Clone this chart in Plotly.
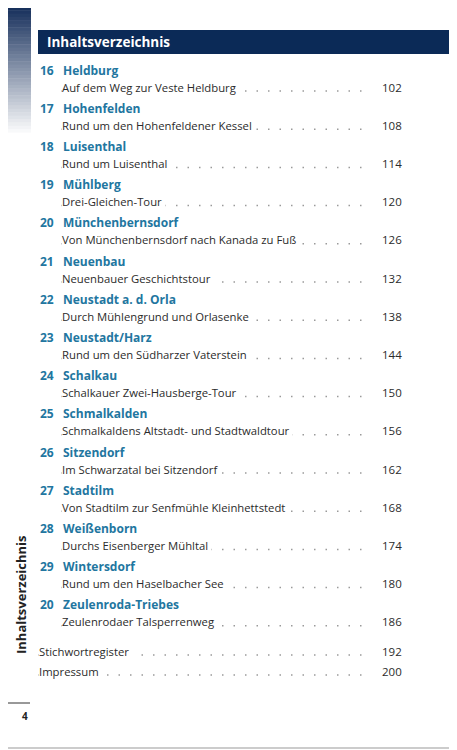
import plotly.graph_objects as go

# Table of contents data
numbers = [16, 17, 18, 19, 20, 21, 22, 23, 24, 25, 26, 27, 28, 29, 20]
places = ["Heldburg", "Hohenfelden", "Luisenthal", "Mühlberg", "Münchenbernsdorf",
          "Neuenbau", "Neustadt a. d. Orla", "Neustadt/Harz", "Schalkau", "Schmalkalden",
          "Sitzendorf", "Stadtilm", "Weißenborn", "Wintersdorf", "Zeulenroda-Triebes"]
tours = ["Auf dem Weg zur Veste Heldburg", "Rund um den Hohenfeldener Kessel",
         "Rund um Luisenthal", "Drei-Gleichen-Tour",
         "Von Münchenbernsdorf nach Kanada zu Fuß", "Neuenbauer Geschichtstour",
         "Durch Mühlengrund und Orlasenke", "Rund um den Südharzer Vaterstein",
         "Schalkauer Zwei-Hausberge-Tour", "Schmalkaldens Altstadt- und Stadtwaldtour",
         "Im Schwarzatal bei Sitzendorf", "Von Stadtilm zur Senfmühle Kleinhettstedt",
         "Durchs Eisenberger Mühltal", "Rund um den Haselbacher See",
         "Zeulenrodaer Talsperrenweg"]
pages = [102, 108, 114, 120, 126, 132, 138, 144, 150, 156, 162, 168, 174, 180, 186]
extras = ["Stichwortregister", "Impressum"]
extra_pages = [192, 200]

W, H = 457, 750
OFF = 8  # page body margin
TEAL = "#2276a0"
NAVY = "#0b2a57"
TXT = "#2b2b2b"
FONT = "Open Sans"

fig = go.Figure()
shapes = []
ann = []

# left gradient band
n = 40
for i in range(n):
    t = i / (n - 1)
    r = int(12 + (255 - 12) * t)
    g = int(38 + (255 - 38) * t)
    b = int(84 + (255 - 84) * t)
    shapes.append(dict(type="rect", x0=0, x1=31, y0=i * 3.4, y1=(i + 1) * 3.4 + 0.5,
                       fillcolor=f"rgb({r},{g},{b})", line_width=0, layer="below"))

# header bar
shapes.append(dict(type="rect", x0=38, x1=W, y0=30, y1=54, fillcolor=NAVY, line_width=0))
ann.append(dict(x=45, y=42, text="<b>Inhaltsverzeichnis</b>", xanchor="left",
                font=dict(family=FONT, size=13.5, color="white")))

dot_x = []
dot_y = []
step = 38.2
for i, (num, place, tour, pg) in enumerate(zip(numbers, places, tours, pages)):
    y = 70 + i * step
    ann.append(dict(x=38, y=y, text=f"<b>{num}</b>", xanchor="left",
                    font=dict(family=FONT, size=12, color=TEAL)))
    ann.append(dict(x=61, y=y, text=f"<b>{place}</b>", xanchor="left",
                    font=dict(family=FONT, size=12, color=TEAL)))
    ys = y + 17
    ann.append(dict(x=61, y=ys, text=tour + " ", xanchor="left", bgcolor="white",
                    borderpad=0, font=dict(family=FONT, size=11.3, color=TXT)))
    ann.append(dict(x=404, y=ys, text=str(pg), xanchor="right",
                    font=dict(family=FONT, size=11.5, color=TXT)))
    dot_x += [61, 368, None]
    dot_y += [ys + 4, ys + 4, None]

for j, (name, pg) in enumerate(zip(extras, extra_pages)):
    ys = 651 + j * 20
    ann.append(dict(x=38, y=ys, text=name + " ", xanchor="left", bgcolor="white",
                    borderpad=0, font=dict(family=FONT, size=11.3, color=TXT)))
    ann.append(dict(x=404, y=ys, text=str(pg), xanchor="right",
                    font=dict(family=FONT, size=11.5, color=TXT)))
    dot_x += [38, 368, None]
    dot_y += [ys + 4, ys + 4, None]

fig.add_trace(go.Scatter(x=dot_x, y=dot_y, mode="lines", hoverinfo="skip",
                         line=dict(color="#9a9a9a", width=1.5, dash="1.5px,10px")))

# vertical side label
ann.append(dict(x=21, y=595, text="<b>Inhaltsverzeichnis</b>", textangle=-90,
                font=dict(family=FONT, size=13, color="#222")))
# page number and rules
shapes.append(dict(type="line", x0=0, x1=30, y0=703, y1=703, line=dict(color="#333", width=1)))
ann.append(dict(x=30, y=716, text="<b>4</b>", xanchor="right",
                font=dict(family=FONT, size=10, color="#222")))
shapes.append(dict(type="line", x0=0, x1=W, y0=748, y1=748, line=dict(color="#ccc", width=2)))

for a in ann:
    a.update(xref="x", yref="y", showarrow=False, yanchor="middle")

fig.update_layout(
    width=W - OFF, height=H - OFF, margin=dict(l=0, r=0, t=0, b=0),
    plot_bgcolor="white", paper_bgcolor="white", showlegend=False,
    xaxis=dict(range=[OFF, W], visible=False, fixedrange=True),
    yaxis=dict(range=[H, OFF], visible=False, fixedrange=True),
    shapes=shapes, annotations=ann,
)

fig.write_html("out.html")
